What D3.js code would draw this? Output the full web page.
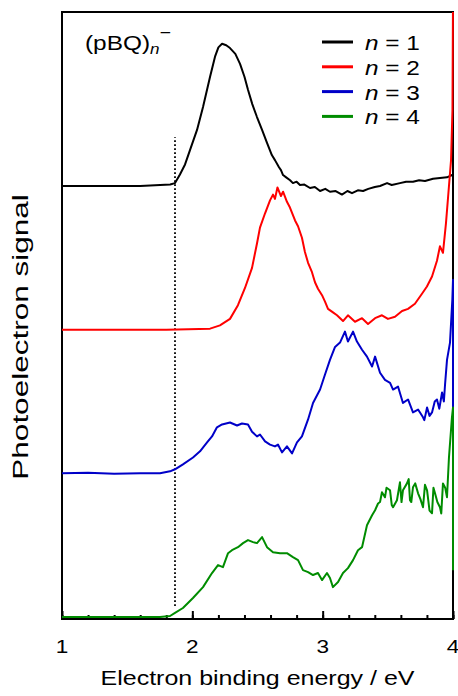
<!DOCTYPE html>
<html>
<head>
<meta charset="utf-8">
<script src="https://cdn.jsdelivr.net/npm/d3@7"></script>
<style>
  body { margin: 0; background: #fff; }
  svg { display: block; font-family: "Liberation Sans", Arial, sans-serif; }
</style>
</head>
<body>
<svg id="chart" width="458" height="696"></svg>
<script>
"use strict";

// series labels + colours
const SERIES = ["1", "2", "3", "4"];
const COLORS = ["#000000", "#ff0000", "#0000c8", "#008c00"];
const OFFSETS = [3, 2, 1, 0];

// n = 1 (black)
const E1 = [1.00, 1.30, 1.60, 1.83, 1.867, 1.905, 1.944, 1.982, 2.036, 2.082, 2.136, 2.174, 2.20, 2.228, 2.26, 2.289,
  2.33, 2.366, 2.40, 2.427, 2.46, 2.496, 2.535, 2.573, 2.61, 2.634, 2.665, 2.68, 2.696, 2.72, 2.75, 2.772, 2.80,
  2.826, 2.86, 2.903, 2.94, 2.98, 3.02, 3.056, 3.10, 3.148, 3.19, 3.225, 3.27, 3.31, 3.35, 3.40, 3.44, 3.494, 3.53,
  3.593, 3.64, 3.693, 3.74, 3.785, 3.847, 3.90, 3.954, 3.99, 4.00];
const S1 = [0, 0, 0, 0.01, 0.02, 0.08, 0.15, 0.25, 0.39, 0.55, 0.76, 0.90, 0.965, 0.99, 0.98, 0.96,
  0.92, 0.85, 0.76, 0.67, 0.57, 0.48, 0.39, 0.30, 0.215, 0.18, 0.13, 0.11, 0.076, 0.06, 0.04, 0.02, 0.03,
  0.007, 0.01, -0.014, -0.007, -0.035, -0.02, -0.04, -0.035, -0.06, -0.035, -0.05, -0.03, -0.035, -0.02, -0.007, 0, 0.02, 0.007,
  0.02, 0.03, 0.03, 0.04, 0.035, 0.05, 0.055, 0.06, 0.076, 0.07];

// n = 2 (red)
const E2 = [1.00, 1.40, 1.80, 2.136, 2.212, 2.289, 2.35, 2.404, 2.458, 2.496, 2.519, 2.558, 2.596, 2.619, 2.634, 2.653,
  2.68, 2.696, 2.726, 2.749, 2.788, 2.811, 2.841, 2.864, 2.888, 2.918, 2.941, 2.964, 2.995, 3.018, 3.041, 3.079,
  3.11, 3.156, 3.194, 3.248, 3.302, 3.348, 3.402, 3.455, 3.501, 3.555, 3.609, 3.655, 3.708, 3.762, 3.80, 3.839,
  3.877, 3.90, 3.923, 3.946, 3.962, 3.985, 3.996, 4.00];
const S2 = [0, 0, 0, 0.007, 0.03, 0.075, 0.17, 0.29, 0.43, 0.60, 0.71, 0.81, 0.90, 0.94, 0.91, 0.99,
  0.93, 0.96, 0.89, 0.85, 0.76, 0.72, 0.64, 0.54, 0.465, 0.40, 0.33, 0.285, 0.24, 0.195, 0.145, 0.12,
  0.10, 0.06, 0.10, 0.055, 0.08, 0.04, 0.08, 0.10, 0.075, 0.09, 0.13, 0.145, 0.18, 0.25, 0.30, 0.37,
  0.48, 0.58, 0.535, 0.74, 0.92, 1.18, 1.53, 2.30];

// n = 3 (blue)
const E3 = [1.00, 1.20, 1.40, 1.60, 1.752, 1.829, 1.867, 1.928, 2.005, 2.059, 2.113, 2.151, 2.189, 2.228, 2.289, 2.343,
  2.381, 2.427, 2.458, 2.496, 2.519, 2.558, 2.596, 2.634, 2.657, 2.688, 2.726, 2.765, 2.803, 2.841, 2.888, 2.926,
  2.98, 3.018, 3.056, 3.095, 3.133, 3.171, 3.194, 3.233, 3.263, 3.302, 3.34, 3.379, 3.402, 3.44, 3.478, 3.517,
  3.54, 3.578, 3.616, 3.655, 3.693, 3.732, 3.77, 3.78, 3.801, 3.82, 3.839, 3.86, 3.877, 3.895, 3.916, 3.93, 3.939,
  3.954, 3.977, 3.995, 4.00, 4.00];
const S3 = [0, 0.004, -0.003, 0, 0, 0.014, 0.028, 0.0625, 0.11, 0.153, 0.215, 0.257, 0.32, 0.34, 0.354, 0.333,
  0.347, 0.34, 0.29, 0.257, 0.27, 0.222, 0.20, 0.1875, 0.20, 0.146, 0.1875, 0.139, 0.215, 0.257, 0.375, 0.49,
  0.583, 0.6875, 0.79, 0.88, 0.91, 0.986, 0.917, 0.986, 0.917, 0.86, 0.8125, 0.743, 0.8125, 0.70, 0.65, 0.63,
  0.583, 0.604, 0.49, 0.514, 0.424, 0.444, 0.39, 0.37, 0.458, 0.40, 0.424, 0.50, 0.514, 0.45, 0.5625, 0.50, 0.618,
  0.79, 0.91, 1.21, 1.347, 0.29];

// n = 4 (green)
const E4 = [1.00, 1.40, 1.752, 1.829, 1.867, 1.928, 2.005, 2.082, 2.151, 2.197, 2.235, 2.274, 2.304, 2.35, 2.389, 2.427,
  2.466, 2.496, 2.535, 2.573, 2.619, 2.673, 2.726, 2.772, 2.811, 2.849, 2.888, 2.926, 2.964, 2.995, 3.033, 3.056,
  3.079, 3.118, 3.156, 3.194, 3.233, 3.271, 3.302, 3.34, 3.379, 3.402, 3.425, 3.44, 3.455, 3.478, 3.49, 3.517, 3.53,
  3.54, 3.57, 3.593, 3.605, 3.616, 3.647, 3.66, 3.67, 3.68, 3.693, 3.71, 3.732, 3.75, 3.77, 3.785, 3.801, 3.82,
  3.839, 3.85, 3.862, 3.88, 3.90, 3.91, 3.923, 3.94, 3.954, 3.969, 3.992, 4.00, 4.00];
const S4 = [0, 0, 0, 0.007, 0.028, 0.0625, 0.132, 0.208, 0.306, 0.361, 0.347, 0.444, 0.465, 0.486, 0.514, 0.535,
  0.521, 0.514, 0.556, 0.486, 0.451, 0.444, 0.444, 0.417, 0.396, 0.326, 0.3125, 0.292, 0.306, 0.257, 0.306, 0.271,
  0.208, 0.243, 0.306, 0.34, 0.396, 0.465, 0.486, 0.639, 0.708, 0.743, 0.79, 0.80, 0.868, 0.833, 0.90, 0.882, 0.78,
  0.764, 0.8125, 0.9375, 0.80, 0.882, 0.93, 0.96, 0.8125, 0.80, 0.903, 0.93, 0.861, 0.82, 0.764, 0.92, 0.882, 0.74,
  0.722, 0.90, 0.861, 0.80, 0.764, 0.72, 0.93, 0.90, 0.833, 1.11, 1.39, 1.458, 0.326];

const ENERGIES = [E1, E2, E3, E4];
const SIGNALS = [S1, S2, S3, S4];

const X_TICKS = [1, 2, 3, 4];
const X_MINOR = d3.range(1, 4.001, 0.2);
const ONSET = 1.867;          // dotted marker
const ONSET_SPAN = [0.077, 3.34];

const svg = d3.select("#chart");
const M = { top: 12, right: 5, bottom: 77, left: 62 };
const W = 458, H = 696;
const iw = W - M.left - M.right;
const ih = H - M.top - M.bottom;

const x = d3.scaleLinear().domain([1, 4]).range([M.left, M.left + iw]);
const y = d3.scaleLinear().domain([-0.014, 4.211]).range([M.top + ih, M.top]);

svg.append("defs").append("clipPath").attr("id", "clip")
  .append("rect").attr("x", M.left).attr("y", M.top).attr("width", iw + 2).attr("height", ih);

// frame
svg.append("rect")
  .attr("x", M.left).attr("y", M.top).attr("width", iw).attr("height", ih)
  .attr("fill", "none").attr("stroke", "#000").attr("stroke-width", 2);

// ticks pointing inward
const ax = svg.append("g").attr("transform", `translate(0,${M.top + ih})`);
ax.call(d3.axisBottom(x).tickValues(X_MINOR).tickSizeInner(-4).tickSizeOuter(0).tickFormat(""));
ax.select(".domain").remove();
const ax2 = svg.append("g").attr("transform", `translate(0,${M.top + ih})`);
ax2.call(d3.axisBottom(x).tickValues(X_TICKS).tickSizeInner(-8).tickSizeOuter(0).tickFormat(""));
ax2.select(".domain").remove();
svg.selectAll(".tick line").attr("stroke", "#000").attr("stroke-width", 2);

// tick labels
svg.append("g").selectAll("text").data(X_TICKS).join("text")
  .attr("transform", d => `translate(${x(d)},${M.top + ih + 34}) scale(1.22,1)`)
  .attr("text-anchor", "middle")
  .style("font-size", "18.5px")
  .text(d => d);

// dotted onset line
svg.append("line")
  .attr("x1", x(ONSET)).attr("x2", x(ONSET))
  .attr("y1", y(ONSET_SPAN[0])).attr("y2", y(ONSET_SPAN[1]))
  .attr("stroke", "#000").attr("stroke-width", 1.8)
  .attr("stroke-dasharray", "1.6,2.4");

// spectra
const line = d3.line().x(d => x(d[0])).y(d => y(d[1]));
const curves = svg.append("g").attr("clip-path", "url(#clip)");
SERIES.forEach((s, i) => {
  const pts = ENERGIES[i].map((e, j) => [e, SIGNALS[i][j] + OFFSETS[i]]);
  curves.append("path")
    .datum(pts)
    .attr("d", line)
    .attr("fill", "none")
    .attr("stroke", COLORS[i])
    .attr("stroke-width", 2)
    .attr("stroke-linejoin", "round");
});

// legend
const leg = svg.append("g").attr("transform", "translate(322,42)");
SERIES.forEach((s, i) => {
  const g = leg.append("g").attr("transform", `translate(0,${i * 24.8})`);
  g.append("line").attr("x1", 0).attr("x2", 31).attr("y1", 0).attr("y2", 0)
    .attr("stroke", COLORS[i]).attr("stroke-width", 3);
  const t = g.append("text")
    .attr("transform", "translate(43,8) scale(1.22,1)")
    .style("font-size", "20px");
  t.append("tspan").style("font-style", "italic").text("n");
  t.append("tspan").text(" = " + s);
});

// species label
const lab = svg.append("text")
  .attr("transform", "translate(85,50) scale(1.22,1)")
  .style("font-size", "20px");
lab.append("tspan").text("(pBQ)");
lab.append("tspan").attr("dy", 4).style("font-size", "14px").style("font-style", "italic").text("n");
lab.append("tspan").attr("dy", -16).style("font-size", "16px").text("\u2212");

// axis titles
svg.append("text")
  .attr("transform", `translate(${x(2.5)},685) scale(1.25,1)`)
  .attr("text-anchor", "middle")
  .style("font-size", "20px")
  .text("Electron binding energy / eV");

svg.append("text")
  .attr("transform", "translate(28,337) rotate(-90) scale(1.4,1)")
  .attr("text-anchor", "middle")
  .style("font-size", "22.5px")
  .text("Photoelectron signal");
</script>
</body>
</html>
